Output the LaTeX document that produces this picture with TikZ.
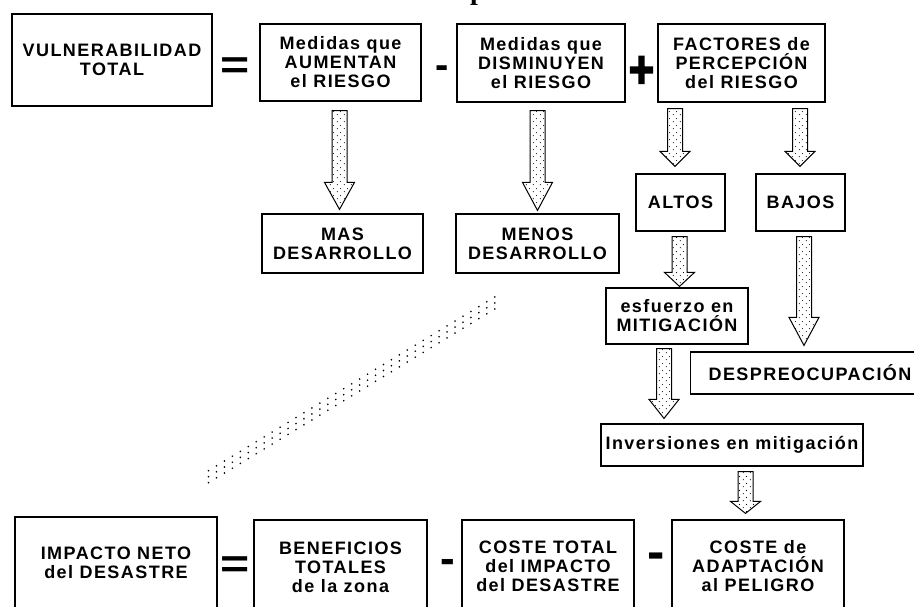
\documentclass[tikz,border=0pt]{standalone}
\usepackage{fontspec}
\setmainfont{Liberation Sans}
\newfontfamily\boxfont[LetterSpace=8]{Liberation Sans}
\newfontfamily\heavyfont[FakeBold=3]{Liberation Sans Bold}
\newfontfamily\titlefont{Liberation Serif}
\usetikzlibrary{calc,patterns}
\pgfdeclarepatternformonly{sparsedots}{\pgfqpoint{0pt}{0pt}}{\pgfqpoint{7pt}{7pt}}{\pgfqpoint{7pt}{7pt}}{%
  \pgfpathcircle{\pgfqpoint{1.5pt}{1.5pt}}{0.6pt}%
  \pgfpathcircle{\pgfqpoint{5pt}{5pt}}{0.6pt}%
  \pgfusepath{fill}}
\tikzset{
  box/.style={draw, line width=1.2pt, rectangle, inner sep=0pt, align=center,
    font=\boxfont\bfseries\fontsize{18}{19}\selectfont},
  sign/.style={inner sep=0pt, font=\bfseries},
  barrow/.style={/utils/exec={\def\hl{#1}}, draw, line width=1pt, pattern=sparsedots,
    to path={let \p1=(\tikztostart), \p2=(\tikztotarget) in
      (\x1-7.5pt,\y1) -- (\x1+7.5pt,\y1) -- (\x1+7.5pt,\y2+\hl) -- (\x1+15pt,\y2+\hl)
      -- (\x1,\y2) -- (\x1-15pt,\y2+\hl) -- (\x1-7.5pt,\y2+\hl) -- cycle}},
  bandline/.style={line width=1.3pt, dash pattern=on 1.3pt off 8pt}
}
\begin{document}
\begin{tikzpicture}[x=1pt,y=-1pt]
\useasboundingbox (0,0) rectangle (914,606);
\clip (0,0) rectangle (914,606);
% title fragment
\node[anchor=base west, inner sep=0pt, font=\titlefont\bfseries\fontsize{28}{30}\selectfont] (title) at (470,-1) {p};
% top row
\node[box, minimum width=200pt, minimum height=92pt] (vul) at (112,60) {VULNERABILIDAD\\TOTAL};
\node[box, minimum width=161pt, minimum height=77pt] (aum) at (340.5,62.5) {Medidas que\\AUMENTAN\\el RIESGO};
\node[box, minimum width=168pt, minimum height=78pt] (dis) at (541,63) {Medidas que\\DISMINUYEN\\el RIESGO};
\node[box, minimum width=167pt, minimum height=78pt] (fac) at (741.5,63) {FACTORES de\\PERCEPCIÓN\\del RIESGO};
\node[sign, font=\bfseries\fontsize{50}{50}\selectfont] (eq1) at (235,68) {\scalebox{1}[0.8]{=}};
\node[sign, font=\bfseries\fontsize{40}{40}\selectfont] (mi1) at (442,72) {-};
\node[sign, font=\heavyfont\fontsize{44}{44}\selectfont] (pl1) at (641.5,72) {\scalebox{1}[1.2]{+}};
% second row
\node[box, minimum width=161pt, minimum height=59pt] (mas) at (342.5,243.5) {MAS\\DESARROLLO};
\node[box, minimum width=163pt, minimum height=59pt] (men) at (537.5,243.5) {MENOS\\DESARROLLO};
\node[box, minimum width=89pt, minimum height=57pt] (alt) at (680.5,202.5) {ALTOS};
\node[box, minimum width=89pt, minimum height=57pt] (baj) at (800.5,202.5) {BAJOS};
\node[box, minimum width=142pt, minimum height=56pt] (esf) at (677,316) {esfuerzo en\\MITIGACIÓN};
\node[box, anchor=west, minimum height=42pt, inner xsep=18pt, text width=230pt, align=left] (des) at (690,373) {DESPREOCUPACIÓN};
\node[box, minimum width=262pt, minimum height=42pt] (inv) at (732,445) {Inversiones en mitigación};
% bottom row
\node[box, minimum width=202pt, minimum height=92pt] (imp) at (116,563) {IMPACTO NETO\\del DESASTRE};
\node[box, minimum width=173pt, minimum height=94pt] (ben) at (340.5,567) {BENEFICIOS\\TOTALES\\de la zona};
\node[box, minimum width=172pt, minimum height=92pt] (cos) at (548,566) {COSTE TOTAL\\del IMPACTO\\del DESASTRE};
\node[box, minimum width=172pt, minimum height=92pt] (ada) at (758,566) {COSTE de\\ADAPTACIÓN\\al PELIGRO};
\node[sign, font=\bfseries\fontsize{50}{50}\selectfont] (eq2) at (235,567) {\scalebox{1}[0.8]{=}};
\node[sign, font=\bfseries\fontsize{44}{44}\selectfont] (mi2) at (447.5,566) {-};
\node[sign, font=\bfseries\fontsize{52}{52}\selectfont] (mi3) at (656.5,561.5) {-};
% block arrows
\draw[barrow=27pt] ($(aum.south)+(-1,9)$) to ($(mas.north)+(0,-4)$);
\draw[barrow=28pt] ($(dis.south)+(-3.5,8)$) to ($(men.north)+(0,-3)$);
\draw[barrow=15pt] ($(fac.south -| alt.north)+(-5.5,6)$) to ($(alt.north)+(0,-7)$);
\draw[barrow=15pt] ($(fac.south -| baj.north)+(-0.5,6)$) to ($(baj.north)+(0,-7)$);
\draw[barrow=14pt] ($(alt.south)+(-1,5)$) to ($(esf.north)+(0,-1)$);
\draw[barrow=28pt] ($(baj.south)+(3.5,5)$) to ($(des.north)+(0,-6)$);
\draw[barrow=19pt] ($(esf.south)+(-13,4)$) to ($(inv.north)+(0,-5)$);
\draw[barrow=12pt] ($(inv.south)+(13.5,5)$) to ($(ada.north)+(0,-6)$);
% dotted band
\coordinate (bandA) at (208,477);
\coordinate (bandB) at (498,301);
\draw[bandline] ($(bandA)+(0,-6)$) -- ($(bandB)+(0,-6)$);
\draw[bandline] (bandA) -- (bandB);
\draw[bandline] ($(bandA)+(0,6)$) -- ($(bandB)+(0,6)$);
\end{tikzpicture}
\end{document}
